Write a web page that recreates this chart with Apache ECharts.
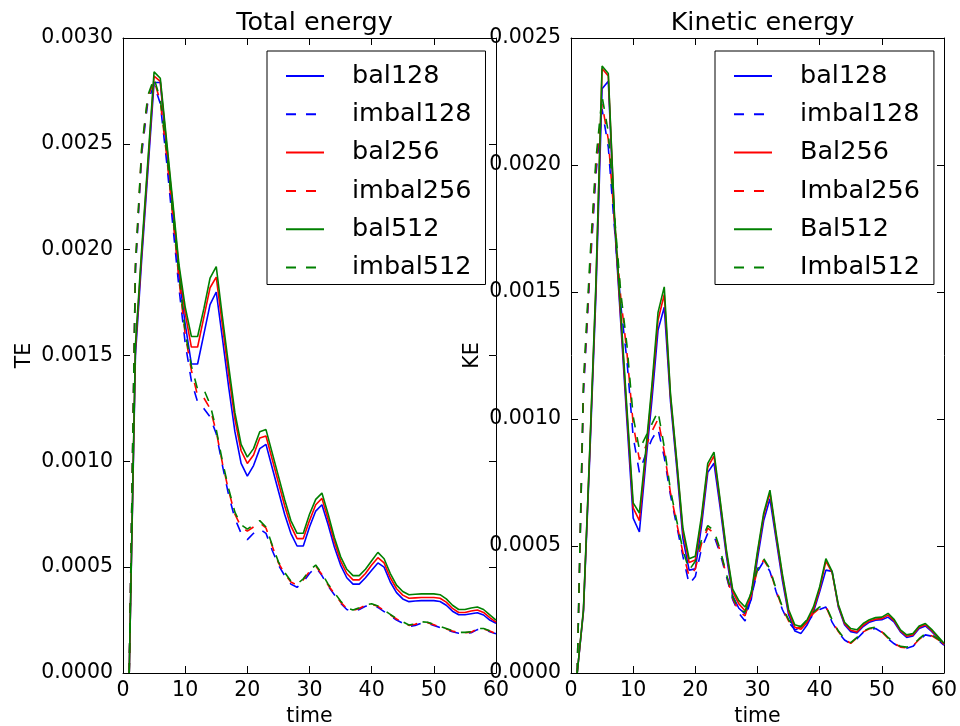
<!DOCTYPE html>
<html>
<head>
<meta charset="utf-8">
<script src="https://cdn.jsdelivr.net/npm/echarts@6/dist/echarts.min.js"></script>
<style>
  html, body { margin: 0; padding: 0; background: #fff; }
  #chart { width: 960px; height: 726px; }
</style>
</head>
<body>
<div id="chart"></div>
<script>
// Simulation output times
const times = [1,2,3,4,5,6,7,8,9,10,11,12,13,14,15,16,17,18,19,20,
  21,22,23,24,25,26,27,28,29,30,31,32,33,34,35,36,37,38,39,40,
  41,42,43,44,45,46,47,48,49,50,51,52,53,54,55,56,57,58,59,60];

// Total energy, in units of 1e-4
const teBal128 = [0,15.0,19.5,23.7,27.9,27.9,24.8,21.8,18.8,16.5,14.6,14.6,16.0,17.4,18.0,15.8,13.5,11.4,9.9,9.3,
  9.8,10.6,10.8,9.7,8.6,7.5,6.6,6.0,6.0,6.9,7.65,7.95,7.0,5.95,5.1,4.5,4.2,4.2,4.5,4.85,
  5.2,5.0,4.3,3.8,3.5,3.37,3.4,3.42,3.42,3.42,3.38,3.2,2.92,2.75,2.75,2.8,2.85,2.74,2.5,2.35];
const teImbal128 = [0,19.0,24.5,27.0,27.8,26.9,24.2,21.2,18.2,15.6,13.8,12.8,12.5,12.1,11.3,9.8,8.4,7.3,6.6,6.3,
  6.6,6.8,6.6,5.8,5.1,4.6,4.2,4.05,4.3,4.7,5.0,4.6,4.1,3.7,3.3,3.0,2.9,3.0,3.15,3.2,
  3.1,2.9,2.7,2.5,2.35,2.2,2.25,2.35,2.35,2.25,2.15,2.05,1.95,1.88,1.87,1.9,2.05,2.05,1.95,1.85];
const teBal256 = [0,15.3,19.8,24.0,28.2,27.95,25.0,22.1,19.1,17.0,15.4,15.4,16.8,18.2,18.7,16.4,14.1,12.0,10.5,9.9,
  10.3,11.1,11.2,10.1,9.0,7.9,6.95,6.35,6.35,7.2,7.95,8.25,7.25,6.2,5.3,4.7,4.4,4.4,4.7,5.1,
  5.45,5.2,4.5,3.98,3.68,3.53,3.55,3.57,3.57,3.57,3.53,3.35,3.05,2.86,2.86,2.93,2.98,2.86,2.62,2.4];
const teImbal256 = [0,19.2,24.7,27.2,28.0,27.0,24.5,21.6,18.6,16.0,14.3,13.1,13.0,12.5,11.4,9.9,8.6,7.5,6.9,6.7,
  6.9,7.1,6.85,6.0,5.2,4.7,4.3,4.15,4.4,4.8,5.05,4.65,4.15,3.75,3.35,3.05,2.95,3.05,3.2,3.25,
  3.15,2.95,2.75,2.55,2.4,2.25,2.3,2.4,2.38,2.28,2.18,2.08,1.98,1.9,1.9,1.93,2.08,2.08,1.98,1.87];
const teBal512 = [0,15.5,20.0,24.2,28.4,28.1,25.2,22.3,19.3,17.3,15.9,15.9,17.2,18.65,19.2,16.8,14.5,12.3,10.8,10.2,
  10.6,11.4,11.5,10.4,9.3,8.2,7.2,6.6,6.6,7.5,8.2,8.5,7.5,6.4,5.5,4.9,4.6,4.6,4.9,5.3,
  5.7,5.4,4.7,4.15,3.85,3.7,3.72,3.74,3.74,3.74,3.7,3.5,3.2,3.0,3.0,3.07,3.12,3.0,2.75,2.5];
const teImbal512 = [0,19.3,24.8,27.3,28.1,27.1,24.7,21.7,18.9,16.1,14.5,13.4,13.4,12.7,11.5,10.0,8.7,7.6,7.0,6.8,
  7.0,7.2,6.9,6.05,5.25,4.75,4.35,4.2,4.45,4.85,5.1,4.7,4.2,3.8,3.4,3.08,2.98,3.08,3.22,3.27,
  3.17,2.97,2.77,2.57,2.42,2.27,2.32,2.42,2.4,2.3,2.2,2.1,2.0,1.92,1.92,1.95,2.1,2.1,2.0,1.89];

// Kinetic energy, in units of 1e-4
const keBal128 = [0,2.4,8.4,14.8,23.0,23.3,17.7,13.8,9.9,6.1,5.55,8.2,10.7,13.5,14.4,10.7,8.1,5.3,4.05,4.1,
  5.8,7.9,8.26,6.5,4.6,3.05,2.55,2.33,2.9,4.5,6.0,6.86,5.25,3.65,2.3,1.65,1.56,1.9,2.4,3.2,
  4.05,4.0,2.6,1.9,1.63,1.58,1.83,2.0,2.08,2.1,2.2,2.0,1.62,1.4,1.46,1.75,1.85,1.64,1.38,1.1];
const keImbal128 = [0,11.0,15.6,19.6,22.2,20.7,17.5,14.5,12.3,9.3,7.9,8.6,9.2,9.6,8.5,7.0,5.8,4.6,3.5,3.8,
  4.9,5.5,5.4,4.7,3.8,2.9,2.35,2.05,3.0,4.0,4.4,4.0,3.2,2.5,2.0,1.7,1.75,2.0,2.3,2.5,
  2.6,2.0,1.6,1.3,1.15,1.35,1.6,1.72,1.75,1.6,1.35,1.15,1.0,0.97,1.05,1.3,1.5,1.45,1.3,1.1];
const keBal256 = [0,2.45,8.6,15.1,23.8,23.5,17.9,14.0,10.2,6.5,6.0,8.5,11.1,13.9,14.9,10.9,8.3,5.55,4.35,4.45,
  6.05,8.1,8.55,6.7,4.75,3.2,2.72,2.45,3.05,4.7,6.2,7.1,5.4,3.8,2.4,1.8,1.72,2.0,2.5,3.3,
  4.4,3.95,2.65,1.95,1.68,1.62,1.88,2.05,2.12,2.14,2.28,2.05,1.66,1.45,1.5,1.8,1.9,1.68,1.42,1.12];
const keImbal256 = [0,11.2,15.8,19.9,22.4,21.0,17.8,14.8,12.6,9.8,8.4,8.9,9.5,10.0,8.7,7.1,5.9,4.75,3.8,4.1,
  5.1,5.7,5.5,4.8,3.85,2.95,2.42,2.25,3.1,4.05,4.45,4.05,3.25,2.55,2.05,1.75,1.8,2.05,2.35,2.55,
  2.62,2.05,1.63,1.32,1.17,1.38,1.62,1.74,1.77,1.62,1.37,1.17,1.02,0.99,1.07,1.32,1.52,1.47,1.32,1.12];
const keBal512 = [0,2.5,8.7,15.3,23.9,23.6,18.0,14.2,10.4,6.7,6.3,8.7,11.3,14.2,15.2,11.0,8.4,5.7,4.5,4.6,
  6.2,8.25,8.7,6.8,4.85,3.3,2.85,2.6,3.15,4.8,6.3,7.2,5.5,3.9,2.5,1.9,1.82,2.1,2.6,3.4,
  4.5,4.0,2.7,2.0,1.75,1.7,1.95,2.1,2.18,2.2,2.35,2.1,1.7,1.5,1.55,1.85,1.95,1.72,1.45,1.17];
const keImbal512 = [0,11.4,16.1,20.2,22.7,21.3,18.0,15.0,12.9,10.1,8.8,9.3,9.8,10.3,8.9,7.2,6.0,4.85,4.05,4.4,
  5.25,5.8,5.6,4.85,3.9,3.0,2.5,2.4,3.2,4.1,4.5,4.1,3.3,2.6,2.1,1.8,1.85,2.1,2.4,2.6,
  2.65,2.1,1.66,1.35,1.2,1.4,1.65,1.76,1.8,1.65,1.4,1.2,1.05,1.02,1.1,1.35,1.55,1.5,1.35,1.14];

const teNames = ['bal128', 'imbal128', 'bal256', 'imbal256', 'bal512', 'imbal512'];
const keNames = ['bal128', 'imbal128', 'Bal256', 'Imbal256', 'Bal512', 'Imbal512'];
const xTicks = { min: 0, max: 60, interval: 10 };
const teTicks = { min: 0, max: 0.003, interval: 0.0005 };
const keTicks = { min: 0, max: 0.0025, interval: 0.0005 };

const FONT = 'DejaVu Sans';
const colors = ['#0000ff', '#0000ff', '#ff0000', '#ff0000', '#008000', '#008000'];
const dashed = [false, true, false, true, false, true];

const toPairs = vals => vals.map((v, i) => [times[i], v * 1e-4]);

function makeSeries(names, sets, axisIdx) {
  return names.map((name, i) => ({
    name: name,
    type: 'line',
    xAxisIndex: axisIdx,
    yAxisIndex: axisIdx,
    data: toPairs(sets[i]),
    symbol: 'none',
    showSymbol: false,
    smooth: false,
    lineStyle: { color: colors[i], width: 1.6, type: dashed[i] ? [10, 10] : 'solid' },
    itemStyle: { color: colors[i] },
    emphasis: { disabled: true },
    animation: false
  }));
}

const frameLine = { show: true, onZero: false, lineStyle: { color: '#000', width: 1 } };
const tick = { show: true, inside: true, length: 7, lineStyle: { color: '#000', width: 1 } };
const labelStyle = { color: '#000', fontSize: 20.5, fontFamily: FONT };

function xAxes(gridIndex) {
  return [
    Object.assign({ type: 'value', gridIndex, position: 'bottom',
      axisLine: frameLine, axisTick: tick, splitLine: { show: false },
      axisLabel: Object.assign({ margin: 7 }, labelStyle),
      name: 'time', nameLocation: 'middle', nameGap: 26,
      nameTextStyle: labelStyle }, xTicks),
    Object.assign({ type: 'value', gridIndex, position: 'top',
      axisLine: frameLine, axisTick: tick, splitLine: { show: false },
      axisLabel: { show: false } }, xTicks)
  ];
}

function yAxes(gridIndex, ticks, name) {
  return [
    Object.assign({ type: 'value', gridIndex, position: 'left',
      axisLine: frameLine, axisTick: tick, splitLine: { show: false },
      axisLabel: Object.assign({ margin: 10, formatter: v => v.toFixed(4) }, labelStyle),
      name: name, nameLocation: 'middle', nameGap: 88,
      nameTextStyle: labelStyle }, ticks),
    Object.assign({ type: 'value', gridIndex, position: 'right',
      axisLine: frameLine, axisTick: tick, splitLine: { show: false },
      axisLabel: { show: false } }, ticks)
  ];
}

function legendFor(names, left) {
  return {
    data: names,
    orient: 'vertical',
    left: left,
    top: 51,
    itemWidth: 38,
    itemHeight: 20,
    itemGap: 12.3,
    padding: [12, 14, 4, 18],
    borderColor: '#000',
    borderWidth: 1,
    borderRadius: 0,
    backgroundColor: '#fff',
    selectedMode: false,
    // line sample only, no marker on it
    itemStyle: { opacity: 0 },
    textStyle: { color: '#000', fontSize: 25.5, fontFamily: FONT, padding: [0, 0, 0, 23] }
  };
}

const chart = echarts.init(document.getElementById('chart'), null, { renderer: 'canvas' });

const xa = xAxes(0).concat(xAxes(1));
const ya = yAxes(0, teTicks, 'TE').concat(yAxes(1, keTicks, 'KE'));
// series of the second grid use axes 2/3
const teSeries = makeSeries(teNames, [teBal128, teImbal128, teBal256, teImbal256, teBal512, teImbal512], 0);
const keSeries = makeSeries(keNames, [keBal128, keImbal128, keBal256, keImbal256, keBal512, keImbal512], 2);

chart.setOption({
  animation: false,
  backgroundColor: '#fff',
  title: [
    { text: 'Total energy', left: 309.5, top: 5, textAlign: 'center',
      textStyle: { color: '#000', fontSize: 25.5, fontWeight: 'normal', fontFamily: FONT } },
    { text: 'Kinetic energy', left: 757.5, top: 5, textAlign: 'center',
      textStyle: { color: '#000', fontSize: 25.5, fontWeight: 'normal', fontFamily: FONT } }
  ],
  grid: [
    { left: 123, top: 38, width: 373, height: 635, containLabel: false, outerBoundsMode: 'none' },
    { left: 571, top: 38, width: 373, height: 635, containLabel: false, outerBoundsMode: 'none' }
  ],
  legend: [legendFor(teNames, 267), legendFor(keNames, 715)],
  xAxis: xa,
  yAxis: ya,
  series: teSeries.concat(keSeries)
});
</script>
</body>
</html>
